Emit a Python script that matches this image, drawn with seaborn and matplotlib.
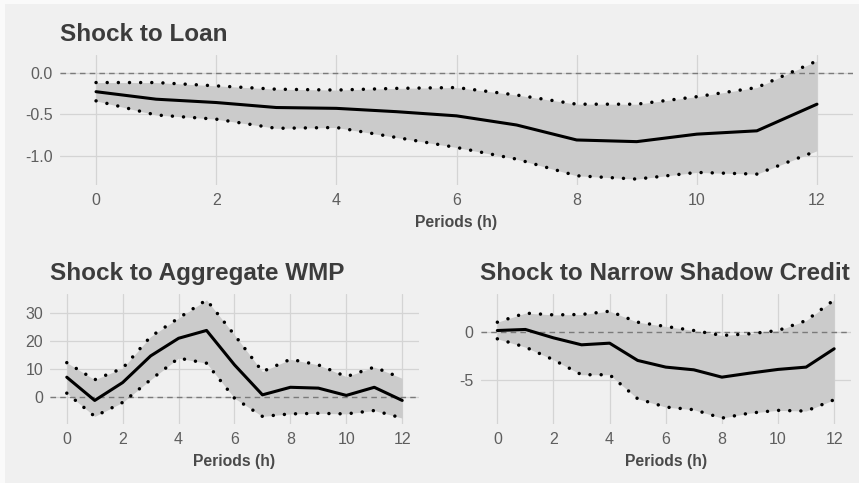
import matplotlib
matplotlib.use("Agg")
import matplotlib.pyplot as plt
import pandas as pd
import seaborn as sns
from matplotlib.patches import Rectangle

# Impulse-response horizons
periods = list(range(13))

# Response to a loan shock: point estimate and confidence bounds
loan_irf = [-0.23, -0.32, -0.36, -0.42, -0.43, -0.47, -0.52, -0.63, -0.81, -0.83, -0.74, -0.70, -0.38]
loan_upper = [-0.12, -0.12, -0.16, -0.20, -0.21, -0.19, -0.18, -0.27, -0.38, -0.38, -0.29, -0.18, 0.14]
loan_lower = [-0.34, -0.51, -0.56, -0.67, -0.66, -0.78, -0.90, -1.04, -1.24, -1.28, -1.20, -1.22, -0.94]

# Response to an aggregate WMP shock
wmp_irf = [6.9, -1.4, 5.0, 14.5, 20.8, 23.6, 11.3, 0.6, 3.3, 3.0, 0.4, 3.3, -1.4]
wmp_upper = [12.1, 6.0, 10.1, 21.4, 28.0, 34.5, 22.0, 8.9, 13.3, 11.3, 7.1, 10.5, 6.5]
wmp_lower = [1.2, -7.1, -2.1, 6.0, 13.7, 11.9, -0.6, -7.1, -6.2, -6.0, -6.2, -5.0, -7.7]

# Response to a narrow shadow credit shock
shadow_irf = [0.17, 0.28, -0.59, -1.31, -1.14, -2.93, -3.62, -3.90, -4.66, -4.24, -3.86, -3.62, -1.72]
shadow_upper = [1.03, 1.97, 1.79, 1.83, 2.17, 1.03, 0.59, 0.17, -0.34, -0.17, 0.17, 1.20, 3.34]
shadow_lower = [-0.69, -1.55, -2.86, -4.41, -4.41, -6.90, -7.76, -8.03, -8.90, -8.38, -8.10, -8.17, -7.00]

titles = ["Shock to Loan", "Shock to Aggregate WMP", "Shock to Narrow Shadow Credit"]
x_ticks = [0, 2, 4, 6, 8, 10, 12]
y_ticks = [[-1.0, -0.5, 0.0], [0, 10, 20, 30], [-5, 0]]
y_fmt = ["{:.1f}", "{:.0f}", "{:.0f}"]

BG = "#F0F0F0"
GRID = "#D4D4D4"
BAND = "#CBCBCB"

sns.set_theme(style="whitegrid", rc={
    "axes.facecolor": BG,
    "figure.facecolor": BG,
    "grid.color": GRID,
    "grid.linewidth": 0.9,
    "axes.edgecolor": BG,
    "axes.unicode_minus": False,
})
plt.rcParams["font.family"] = ["Liberation Sans", "DejaVu Sans"]

W, H = 859, 483
fig = plt.figure(figsize=(W / 100, H / 100), dpi=100, facecolor=BG)
# thin light frame along the left and top edges
fig.patches.append(Rectangle((0, 0), 5 / W, 1, transform=fig.transFigure,
                             facecolor="#FAFAFA", edgecolor="none", zorder=-10))
fig.patches.append(Rectangle((0, 1 - 4 / H), 1, 4 / H, transform=fig.transFigure,
                             facecolor="#FAFAFA", edgecolor="none", zorder=-10))


def box(x0, y0, x1, y1):
    return [x0 / W, 1 - y1 / H, (x1 - x0) / W, (y1 - y0) / H]


axes = [
    fig.add_axes(box(60, 55, 853, 185)),
    fig.add_axes(box(50, 294, 419, 424)),
    fig.add_axes(box(480.5, 294, 851, 424)),
]

series = [
    (loan_irf, loan_upper, loan_lower),
    (wmp_irf, wmp_upper, wmp_lower),
    (shadow_irf, shadow_upper, shadow_lower),
]

dot_style = dict(color="black", linewidth=2.5, linestyle=(0, (0.01, 3.2)),
                 dash_capstyle="round")

for ax, (irf, up, lo), title, yt, fmt in zip(axes, series, titles, y_ticks, y_fmt):
    df = pd.DataFrame({"h": periods, "irf": irf, "upper": up, "lower": lo})
    ax.fill_between(df["h"], df["lower"], df["upper"], color=BAND, linewidth=0, zorder=1)
    ax.axhline(0, color="#7A7A7A", linewidth=1.0, linestyle=(0, (4, 3)), zorder=2)
    sns.lineplot(data=df, x="h", y="upper", ax=ax, errorbar=None, zorder=3, **dot_style)
    sns.lineplot(data=df, x="h", y="lower", ax=ax, errorbar=None, zorder=3, **dot_style)
    sns.lineplot(data=df, x="h", y="irf", ax=ax, errorbar=None, color="black",
                 linewidth=2.2, zorder=4)

    ax.set_xticks(x_ticks)
    ax.set_yticks(yt)
    ax.set_yticklabels([fmt.format(v) for v in yt])
    ax.tick_params(axis="both", length=0, labelsize=11.5, labelcolor="#5E5E5E")
    ax.tick_params(axis="x", pad=6)
    ax.tick_params(axis="y", pad=5)
    ax.set_xlabel("Periods (h)", fontsize=11.3, fontweight="bold", color="#4A4A4A", labelpad=5)
    ax.set_ylabel("")
    ax.set_title(title, loc="left", fontsize=17.5, fontweight="bold", color="#3C3C3C", pad=10)
    for s in ax.spines.values():
        s.set_visible(False)
    ax.grid(True, color=GRID, linewidth=0.9)

fig.savefig("out.png", dpi=100, facecolor=BG)
